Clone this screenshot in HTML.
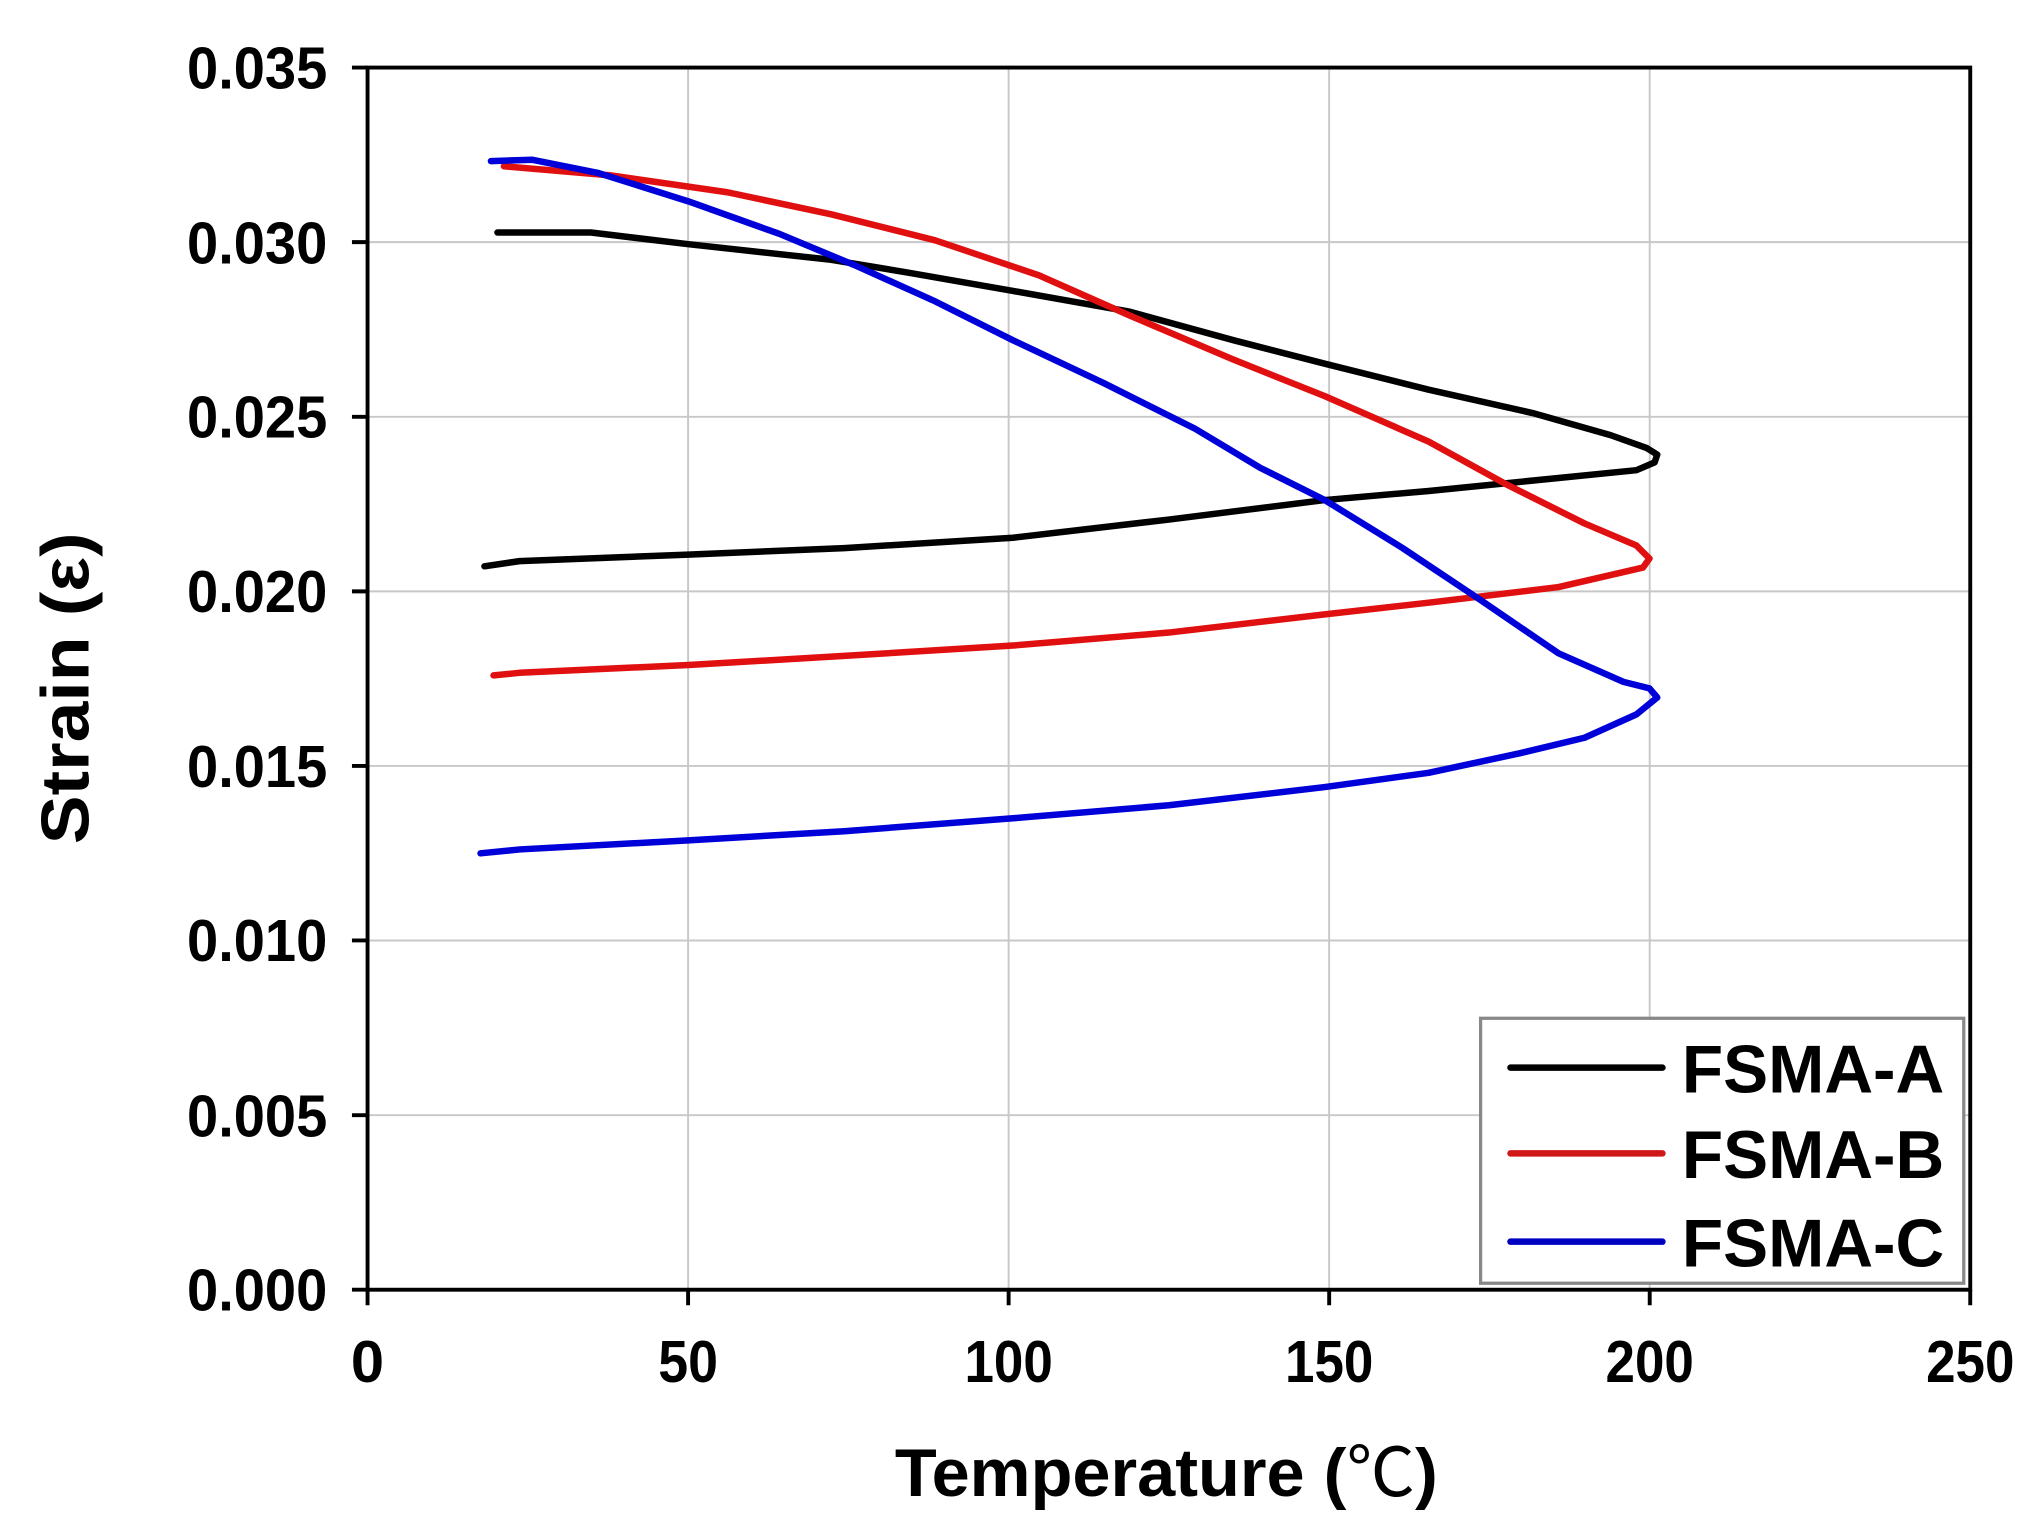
<!DOCTYPE html>
<html><head><meta charset="utf-8"><style>html,body{margin:0;padding:0;background:#fff}svg{display:block}</style></head>
<body>
<svg width="2037" height="1536" viewBox="0 0 1568.4 1182.6" xmlns="http://www.w3.org/2000/svg" font-family="Liberation Sans, Arial, sans-serif" font-weight="bold">
<rect width="1568.4" height="1182.6" fill="#fff"/>
<g stroke="#c8c8c8" stroke-width="1.5">
<line x1="529.8" y1="52" x2="529.8" y2="993"/><line x1="776.6" y1="52" x2="776.6" y2="993"/><line x1="1023.4" y1="52" x2="1023.4" y2="993"/><line x1="1270.2" y1="52" x2="1270.2" y2="993"/>
<line x1="283" y1="858.6" x2="1517" y2="858.6"/><line x1="283" y1="724.1" x2="1517" y2="724.1"/><line x1="283" y1="589.7" x2="1517" y2="589.7"/><line x1="283" y1="455.3" x2="1517" y2="455.3"/><line x1="283" y1="320.9" x2="1517" y2="320.9"/><line x1="283" y1="186.4" x2="1517" y2="186.4"/>
</g>
<g stroke="#000" stroke-width="3" fill="none">
<rect x="283" y="52" width="1234" height="941"/>
<path d="M283 993v12M529.8 993v12M776.6 993v12M1023.4 993v12M1270.2 993v12M1517 993v12"/>
<path d="M271 993h12M271 858.6h12M271 724.1h12M271 589.7h12M271 455.3h12M271 320.9h12M271 186.4h12M271 52h12"/>
</g>
<g font-size="46" text-anchor="end">
<text x="252" y="1009" textLength="108" lengthAdjust="spacingAndGlyphs">0.000</text>
<text x="252" y="875" textLength="108" lengthAdjust="spacingAndGlyphs">0.005</text>
<text x="252" y="740" textLength="108" lengthAdjust="spacingAndGlyphs">0.010</text>
<text x="252" y="606" textLength="108" lengthAdjust="spacingAndGlyphs">0.015</text>
<text x="252" y="471" textLength="108" lengthAdjust="spacingAndGlyphs">0.020</text>
<text x="252" y="337" textLength="108" lengthAdjust="spacingAndGlyphs">0.025</text>
<text x="252" y="203" textLength="108" lengthAdjust="spacingAndGlyphs">0.030</text>
<text x="252" y="68" textLength="108" lengthAdjust="spacingAndGlyphs">0.035</text>
</g>
<g font-size="46" text-anchor="middle">
<text x="283" y="1064">0</text>
<text x="529.8" y="1064" textLength="46" lengthAdjust="spacingAndGlyphs">50</text>
<text x="776.6" y="1064" textLength="68" lengthAdjust="spacingAndGlyphs">100</text>
<text x="1023.4" y="1064" textLength="68" lengthAdjust="spacingAndGlyphs">150</text>
<text x="1270.2" y="1064" textLength="68" lengthAdjust="spacingAndGlyphs">200</text>
<text x="1517" y="1064" textLength="68" lengthAdjust="spacingAndGlyphs">250</text>
</g>
<text x="898" y="1152" font-size="52" text-anchor="middle" textLength="418" lengthAdjust="spacingAndGlyphs">Temperature (<tspan font-weight="normal" font-family="Noto Sans CJK SC, sans-serif">℃</tspan>)</text>
<text transform="translate(68 530) rotate(-90)" font-size="52" text-anchor="middle" textLength="240" lengthAdjust="spacingAndGlyphs">Strain (ε)</text>
<g fill="none" stroke-width="5" stroke-linejoin="round" stroke-linecap="round">
<path stroke="#000" d="M383 179L455 179L530 188L640 200L700 210L780 224L870 240L950 262L1020 280L1100 300L1180 318L1240 335L1268 345L1276 350L1274 356L1260 362L1200 368L1100 378L1020 385L900 400L780 414L650 422L530 427L400 432L373 436"/>
<path stroke="#e01010" d="M388 128L470 135L560 148L640 165L720 185L800 212L870 243L950 277L1020 305L1100 340L1160 373L1220 403L1260 420L1270 430L1265 437L1200 452L1100 464L1020 473L900 487L780 497L650 505L530 512L400 518L380 520"/>
<path stroke="#0000d8" d="M378 124L410 123L460 133L530 155L600 180L660 205L720 232L780 262L850 295L920 330L970 360L1020 385L1080 422L1140 462L1200 503L1250 525L1270 530L1276 537L1260 550L1220 568L1170 580L1100 595L1020 606L900 620L780 630L650 640L530 647L400 654L370 657"/>
</g>
<rect x="1140" y="784" width="372" height="204" fill="#fff" stroke="#888" stroke-width="2.5"/>
<g stroke-width="5" stroke-linecap="round">
<line x1="1163" y1="822" x2="1280" y2="822" stroke="#000"/>
<line x1="1163" y1="888" x2="1280" y2="888" stroke="#d01818"/>
<line x1="1163" y1="956" x2="1280" y2="956" stroke="#0000c0"/>
</g>
<g font-size="52">
<text x="1295" y="841" textLength="202" lengthAdjust="spacingAndGlyphs">FSMA-A</text>
<text x="1295" y="907" textLength="202" lengthAdjust="spacingAndGlyphs">FSMA-B</text>
<text x="1295" y="975" textLength="202" lengthAdjust="spacingAndGlyphs">FSMA-C</text>
</g>
</svg>
</body></html>
